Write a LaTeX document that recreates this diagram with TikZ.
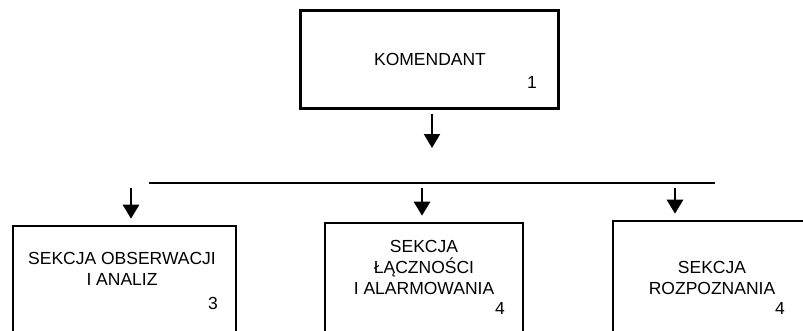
\documentclass[tikz,border=0pt]{standalone}
\usepackage{fontspec}
\setmainfont{Liberation Sans}
\usetikzlibrary{arrows.meta}
\tikzset{
  unit/.style={draw, line width=2.6pt, inner sep=0pt},
  caption/.style={font=\fontsize{17.5}{21}\selectfont, align=center, inner sep=0pt},
  num/.style={font=\fontsize{17.5}{18}\selectfont, inner sep=0pt},
  down/.style={line width=2.8pt, -{Triangle[width=16pt,length=14pt]}}
}
\begin{document}
\begin{tikzpicture}[x=1pt,y=-1pt]
      \clip (0,0) rectangle (803,330);
      \node[unit, line width=3pt, minimum width=258pt, minimum height=98pt] (kom) at (429,59) {};
      \node[unit, minimum width=223pt, minimum height=120pt] (s1) at (124.5,286) {};
      \node[unit, minimum width=198pt, minimum height=122pt] (s2) at (424,284) {};
      \node[unit, minimum width=222pt, minimum height=124pt] (s3) at (724,283) {};
      \node[caption] (komtxt) at (430,59) {KOMENDANT};
      \node[caption] (s1txt) at (122,268.5) {SEKCJA OBSERWACJI\\I ANALIZ};
      \node[caption] (s2txt) at (424,267.5) {SEKCJA\\ŁĄCZNOŚCI\\I ALARMOWANIA};
      \node[caption] (s3txt) at (712,277.5) {SEKCJA\\ROZPOZNANIA};
      \node[num] (n1) at (532,82) {1};
      \node[num] (n2) at (213,303) {3};
      \node[num] (n3) at (500,308) {4};
      \node[num] (n4) at (780,308) {4};
      % szyna
      \coordinate (hub) at (432,148);
      \coordinate (busL) at (149,183);
      \coordinate (busR) at (715,183);
      \coordinate (d1) at (131,188);
      \coordinate (d2) at (422,188);
      \coordinate (d3) at (675,188);
      \draw[down, line width=2pt, shorten <=4pt] (hub |- kom.south) -- (hub);
      \draw[line width=2.6pt] (busL) -- (busR);
      \draw[down, shorten >=6pt] (d1) -- (d1 |- s1.north);
      \draw[down, shorten >=6pt] (d2) -- (d2 |- s2.north);
      \draw[down, shorten >=6pt] (d3) -- (d3 |- s3.north);
    \end{tikzpicture}
\end{document}
